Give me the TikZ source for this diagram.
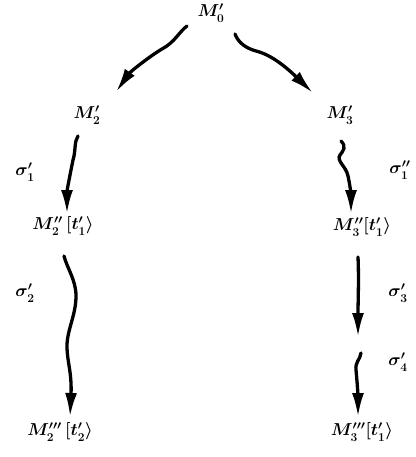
\documentclass[tikz,border=0pt]{standalone}
\usepackage{amsmath}
\usetikzlibrary{arrows.meta}
\tikzset{>={Latex[length=24pt 0,width=12pt 0]},
  state/.style={font=\fontsize{18}{21}\selectfont\boldmath,inner sep=1pt},
  slab/.style={font=\fontsize{18}{21}\selectfont\boldmath,inner sep=1pt},
  flow/.style={->,line width=3.3pt,line cap=round}}
\begin{document}
\begin{tikzpicture}[x=1pt,y=-1pt]
\useasboundingbox (0,0) rectangle (415,457);
% markings
\node[state] (m0) at (211,13) {$M_0'$};
\node[state] (m2) at (87,115) {$M_2'$};
\node[state] (m3) at (340,115) {$M_3'$};
\node[state] (m2b) at (63,226) {$M_2''\,[t_1'\rangle$};
\node[state] (m3b) at (362,227) {$M_3''[t_1'\rangle$};
\node[state] (m2c) at (60,432) {$M_2'''\,[t_2'\rangle$};
\node[state] (m3c) at (362,432) {$M_3'''[t_1'\rangle$};
% firing sequences
\node[slab] (s1a) at (25,172) {$\sigma_1'$};
\node[slab] (s1b) at (400,170) {$\sigma_1''$};
\node[slab] (s2) at (25,293) {$\sigma_2'$};
\node[slab] (s3) at (398,293) {$\sigma_3'$};
\node[slab] (s4) at (398,362) {$\sigma_4'$};
\coordinate (c3) at (358,337);
\coordinate (c4) at (361,353);
% wavy arrows
\draw[flow] ([shift={(-24,13)}]m0.center) .. controls (179,32) and (175,42) .. (162,49)
  .. controls (150,56) and (130,72) .. ([shift={(29,-23)}]m2.center);
\draw[flow] ([shift={(24,21)}]m0.center) .. controls (238,42) and (245,48) .. (256,51)
  .. controls (272,55) and (287,68) .. ([shift={(-27,-22)}]m3.center);
\draw[flow] ([shift={(-9,21)}]m2.center) .. controls (74,142) and (76,150) .. (73,160)
  .. controls (70,175) and (67,190) .. ([shift={(4,-12)}]m2b.center);
\draw[flow] ([shift={(1,26)}]m3.center) .. controls (347,147) and (343,151) .. (340,155)
  .. controls (336,161) and (346,166) .. (348,176)
  .. controls (350,185) and (351,195) .. ([shift={(-11,-13)}]m3b.center);
\draw[flow] ([shift={(1,30)}]m2b.center) .. controls (67,268) and (76,280) .. (76,296)
  .. controls (76,315) and (67,330) .. (67,346)
  .. controls (67,362) and (72,372) .. ([shift={(10,-15)}]m2c.center);
\draw[flow] ([shift={(-4,30)}]m3b.center) .. controls (359,280) and (358,300) .. (c3);
\draw[flow] (c4) .. controls (360,360) and (355,362) .. (356,370)
  .. controls (357,380) and (358,395) .. ([shift={(-4,-15)}]m3c.center);
\end{tikzpicture}
\end{document}
